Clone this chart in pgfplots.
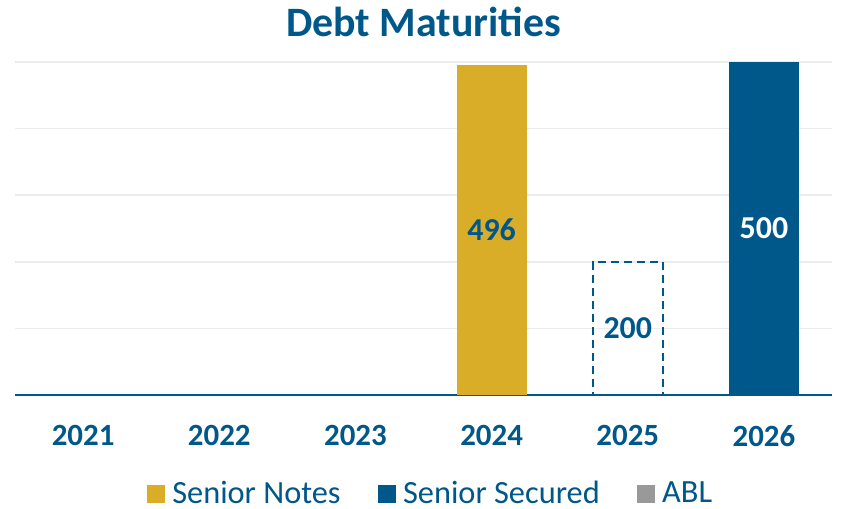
\documentclass[border=0pt]{standalone}
\usepackage{fontspec}
\setmainfont{Carlito}
\usepackage{pgfplots}
\pgfplotsset{compat=1.18}
\definecolor{cgold}{RGB}{218,173,41}
\definecolor{cblue}{RGB}{0,87,138}
\definecolor{cgray}{RGB}{153,153,153}
\definecolor{cgrid}{RGB}{236,236,236}
\begin{document}
\begin{tikzpicture}
\useasboundingbox (0,0) rectangle (843bp,509bp);
\begin{axis}[
  at={(15bp,114bp)}, anchor=south west,
  scale only axis, width=817bp, height=333bp,
  xmin=-0.5, xmax=5.5, ymin=0, ymax=500,
  ybar, bar width=70bp, bar shift=0pt,
  axis x line=bottom, axis y line=left,
  x axis line style={draw=cblue, line width=1.5bp, -},
  y axis line style={draw=none},
  major tick length=0pt,
  xtick={0,1,2,3,4,5},
  xticklabels={2021,2022,2023,2024,2025,2026},
  xticklabel style={font=\fontsize{31}{36}\selectfont\bfseries, text=cblue, yshift=-27bp},
  ytick={100,200,300,400,500}, yticklabels={},
  ymajorgrids, grid style={draw=cgrid, line width=1.5bp},
  /pgf/number format/assume math mode=true,
  title={Debt Maturities},
  title style={at={(0.5,1)}, anchor=base, yshift=20bp, font=\fontsize{42}{48}\selectfont\bfseries, text=cblue},
  legend style={at={(0.508,-0.295)}, anchor=center, draw=none, legend columns=3, inner sep=0pt,
    font=\fontsize{32.5}{36}\selectfont, text=cblue,
    nodes={inner sep=1bp},
    /tikz/every odd column/.append style={column sep=7bp},
    /tikz/every even column/.append style={column sep=36bp}},
  legend cell align=left,
  clip=false,
]
\addlegendimage{legend image code/.code={\fill[cgold] (0bp,-8.5bp) rectangle (17bp,8.5bp);}}
\addlegendentry{Senior Notes}
\addlegendimage{legend image code/.code={\fill[cblue] (0bp,-8.5bp) rectangle (17bp,8.5bp);}}
\addlegendentry{Senior Secured}
\addlegendimage{legend image code/.code={\fill[cgray] (0bp,-8.5bp) rectangle (17bp,8.5bp);}}
\addlegendentry{ABL}
% Senior Notes
\addplot[fill=cgold, draw=none, forget plot] coordinates {(3,496)};
% Senior Secured
\addplot[fill=cblue, draw=none, forget plot] coordinates {(5,500)};
% Dashed (200)
\addplot[fill=none, draw=cblue, line width=1.5bp, dash pattern=on 8bp off 5bp, forget plot] coordinates {(4,200)};
% labels (centred in bars)
\addplot[draw=none, fill=none, forget plot, nodes near coords, point meta=explicit symbolic,
  every node near coord/.style={anchor=center, font=\fontsize{32}{38}\selectfont\bfseries, text=cblue}]
  coordinates {(3,248) [496] (4,100) [200]};
\addplot[draw=none, fill=none, forget plot, nodes near coords, point meta=explicit symbolic,
  every node near coord/.style={anchor=center, font=\fontsize{32}{38}\selectfont\bfseries, text=white}]
  coordinates {(5,250) [500]};
\end{axis}
\end{tikzpicture}
\end{document}
